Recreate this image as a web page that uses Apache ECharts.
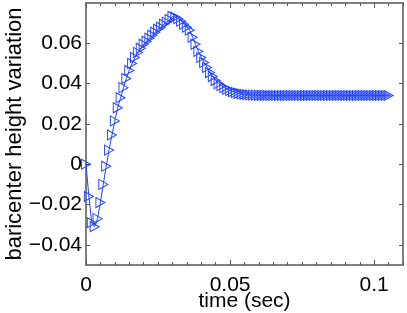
<!DOCTYPE html>
<html><head><meta charset="utf-8">
<script src="https://cdn.jsdelivr.net/npm/echarts@6/dist/echarts.min.js"></script>
<style>html,body{margin:0;padding:0;background:#fff}#c{width:407px;height:313px}</style>
</head><body><div id="c"></div>
<script>
const timeStep = 0.001;
const heightValues = [
 0, -0.016, -0.029, -0.031, -0.027, -0.019, -0.010, -0.001, 0.007, 0.0145,
 0.0215, 0.028, 0.033, 0.038, 0.0425, 0.0465, 0.050, 0.053, 0.0555, 0.0575,
 0.0595, 0.061, 0.0625, 0.064, 0.0655, 0.067, 0.068, 0.0695, 0.0705, 0.0718,
 0.0733, 0.073, 0.0722, 0.071, 0.0695, 0.068, 0.0665, 0.063, 0.0595, 0.056,
 0.053, 0.0505, 0.048, 0.0455, 0.0435, 0.0415, 0.040, 0.039, 0.038, 0.0372,
 0.0366, 0.036, 0.0356, 0.0352, 0.0349, 0.0347, 0.0345, 0.0344, 0.0343, 0.0343,
 0.0342, 0.0342, 0.0342, 0.0341, 0.0341, 0.0341, 0.0341, 0.0341, 0.0341, 0.0341,
 0.0341, 0.0341, 0.0341, 0.0341, 0.0341, 0.0341, 0.0341, 0.0341, 0.0341, 0.0341,
 0.0341, 0.0341, 0.0341, 0.0341, 0.0341, 0.0341, 0.0341, 0.0341, 0.0341, 0.0341,
 0.0341, 0.0341, 0.0341, 0.0341, 0.0341, 0.0341, 0.0341, 0.0341, 0.0341, 0.0341,
 0.0341, 0.0341, 0.0341, 0.0341, 0.0341, 0.0341
];
const xTickLabels = [0, 0.05, 0.1];
const yTickLabels = [-0.04, -0.02, 0, 0.02, 0.04, 0.06];
const xName = 'time (sec)';
const yName = 'baricenter height variation';

const points = heightValues.map((v, i) => [+(i * timeStep).toFixed(3), v]);
const fontFam = '"Liberation Sans", Arial, sans-serif';
const axisGray = '#808080';
const blue = '#2244ff';

const fmtY = v => v === 0 ? '0' : (v < 0 ? '\u2212' + Math.abs(v).toFixed(2) : v.toFixed(2));
const fmtX = v => v === 0 ? '0' : String(v);

const baseLine = {show: true, onZero: false, lineStyle: {color: axisGray, width: 2}};
const hiddenLine = {show: false, onZero: false};
const minorTick = {show: true, inside: true, length: 3, lineStyle: {color: '#555', width: 1}};
const majorTickX = {show: true, inside: true, length: 5, customValues: xTickLabels, lineStyle: {color: '#555', width: 1}};
const yTick = {show: true, inside: true, length: 4, customValues: yTickLabels, lineStyle: {color: '#555', width: 1}};

const xCommon = {type: 'value', min: 0, max: 0.11, splitLine: {show: false}};
const yCommon = {type: 'value', min: -0.05, max: 0.08, splitLine: {show: false}};

const chart = echarts.init(document.getElementById('c'), null, {renderer: 'canvas'});
chart.setOption({
  animation: false,
  backgroundColor: '#fff',
  grid: {left: 86, right: 4, top: 3, bottom: 48, containLabel: false, outerBoundsMode: 'none'},
  xAxis: [
    Object.assign({}, xCommon, {position: 'bottom', interval: 0.005,
     name: xName, nameLocation: 'middle', nameGap: 26, nameMoveOverlap: false,
     nameTextStyle: {fontFamily: fontFam, fontSize: 21, color: '#000'},
     axisLine: baseLine, axisTick: minorTick,
     axisLabel: {customValues: xTickLabels, formatter: fmtX, fontFamily: fontFam, fontSize: 21, color: '#000', margin: 10}}),
    Object.assign({}, xCommon, {position: 'top', interval: 0.005,
     axisLine: baseLine, axisTick: minorTick, axisLabel: {show: false}}),
    Object.assign({}, xCommon, {position: 'bottom', axisLine: hiddenLine,
     axisTick: majorTickX, axisLabel: {show: false}}),
    Object.assign({}, xCommon, {position: 'top', axisLine: hiddenLine,
     axisTick: majorTickX, axisLabel: {show: false}})
  ],
  yAxis: [
    Object.assign({}, yCommon, {position: 'left',
     name: yName, nameLocation: 'middle', nameGap: 60, nameRotate: 90, nameMoveOverlap: false,
     nameTextStyle: {fontFamily: fontFam, fontSize: 22, color: '#000'},
     axisLine: baseLine, axisTick: yTick,
     axisLabel: {customValues: yTickLabels, formatter: fmtY, fontFamily: fontFam, fontSize: 21, color: '#000', margin: 4}}),
    Object.assign({}, yCommon, {position: 'right',
     axisLine: baseLine, axisTick: yTick, axisLabel: {show: false}})
  ],
  series: [{
    type: 'line', xAxisIndex: 0, yAxisIndex: 0, data: points,
    symbol: 'path://M0,0 L10,5 L0,10 Z', symbolSize: [9, 10], showAllSymbol: true,
    lineStyle: {color: blue, width: 1},
    itemStyle: {color: 'rgba(0,0,0,0)', borderColor: blue, borderWidth: 1},
    emphasis: {disabled: true}
  }]
});
</script></body></html>
